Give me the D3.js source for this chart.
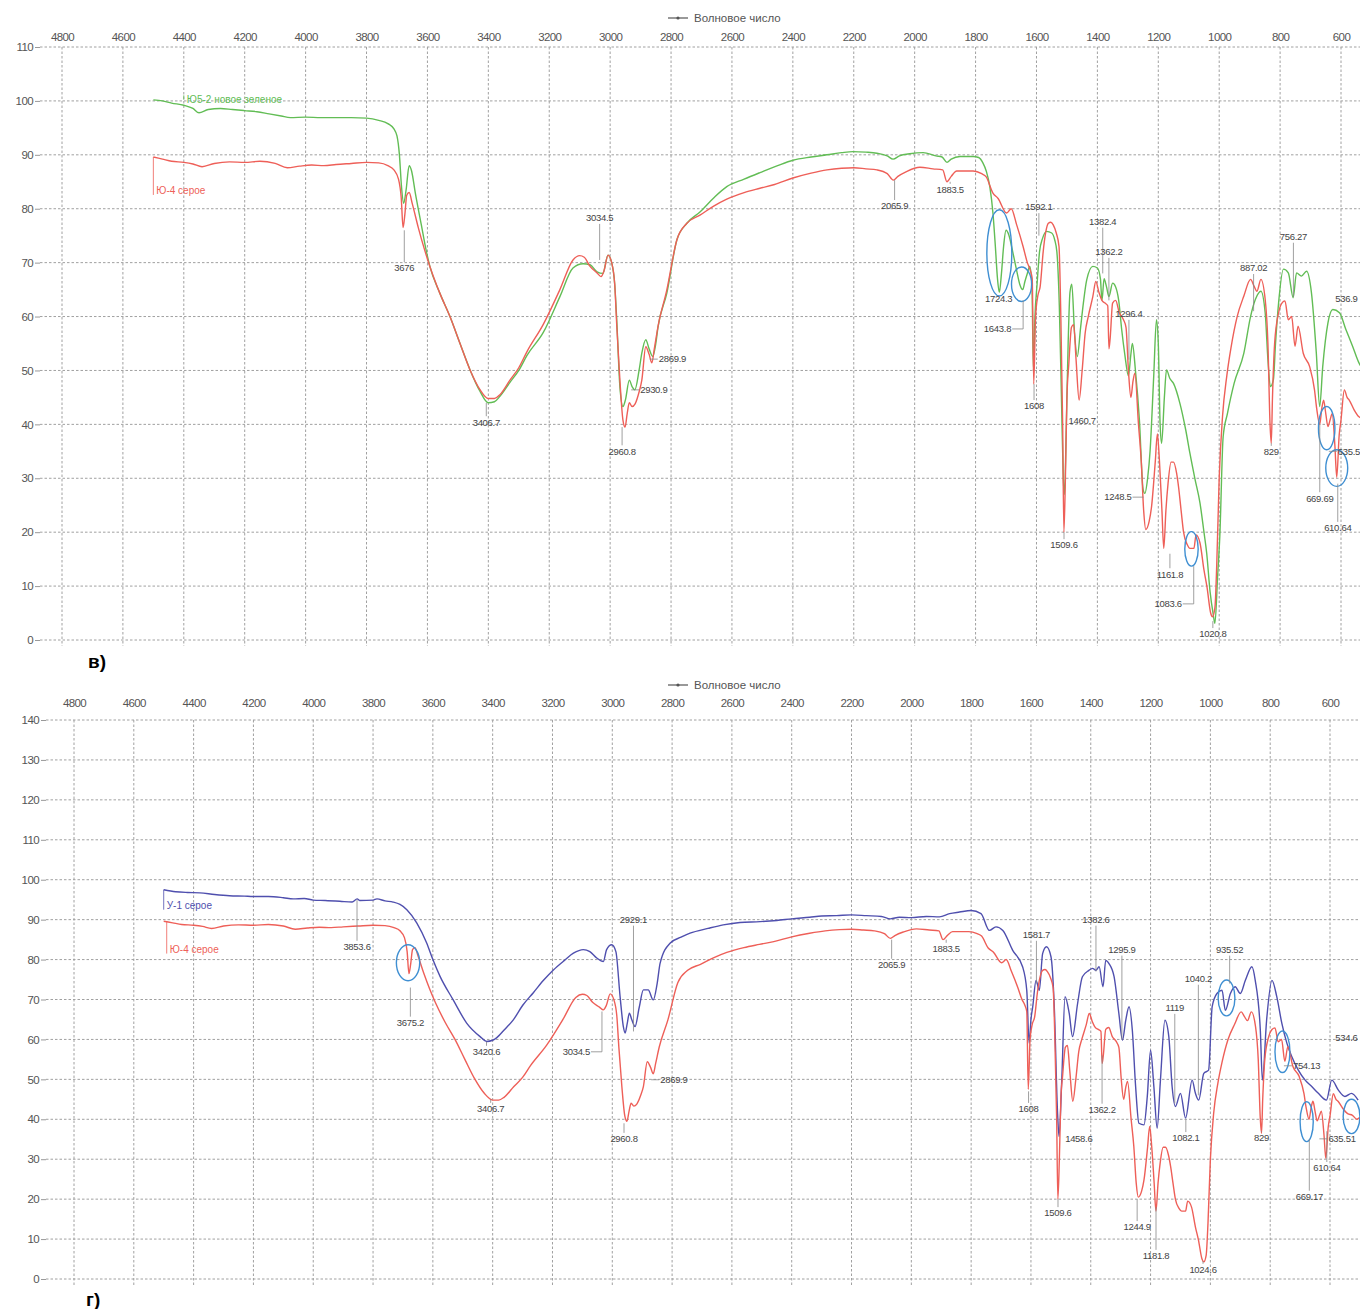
<!DOCTYPE html>
<html>
<head>
<meta charset="utf-8">
<script src="https://cdn.jsdelivr.net/npm/d3@7"></script>
<style>
  body { margin: 0; background: #fff; }
  svg { display: block; font-family: "Liberation Sans Narrow", "Liberation Sans", Arial, sans-serif; }
</style>
</head>
<body>
<svg id="chart" width="1360" height="1309"></svg>
<script>
// ---- data: [wavenumber cm-1, transmittance %] ----
var greenSeries = [
  [4500,100.2],[4470,100],[4440,99.6],[4400,99.2],[4370,98.6],[4350,97.8],[4320,98.4],[4280,98.6],
  [4240,98.4],[4200,98.2],[4160,98],[4120,97.6],[4080,97.2],[4050,96.9],[4000,97],[3950,96.9],
  [3900,96.9],[3850,96.9],[3800,96.8],[3760,96.4],[3730,95.8],[3710,94.8],[3700,93.5],[3692,90],
  [3685,84],[3678,81],[3670,83.5],[3660,88],[3652,87],[3640,83],[3620,77],[3605,72.5],[3592,69.3],
  [3559,64.3],[3526,60],[3493,55],[3460,50.1],[3428,46.2],[3400,44],[3380,44.2],[3362,45.2],
  [3329,47.8],[3300,50],[3273,52.8],[3220,57],[3165,63.7],[3122,69],[3089,69.8],[3066,69.6],
  [3043,68.3],[3024,68],[3007,71.4],[2995,70],[2985,66],[2978,59],[2968,47],[2958,43.3],[2950,44.5],
  [2937,48.2],[2928,47],[2919,46.4],[2905,50],[2896,53.2],[2883,55.7],[2872,54],[2860,52.6],
  [2850,55],[2843,58],[2814,64.3],[2781,74.2],[2748,77.3],[2705,79.4],[2660,82],[2617,84.1],
  [2560,85.5],[2508,86.7],[2450,88],[2400,89],[2340,89.6],[2288,90],[2240,90.4],[2203,90.6],
  [2160,90.5],[2124,90.3],[2090,89.8],[2071,89.2],[2050,89.8],[2016,90.2],[1972,90.4],[1930,89.8],
  [1910,89.6],[1894,88.6],[1880,89.2],[1851,89.7],[1808,89.7],[1790,89.5],[1776,88.5],[1765,87],
  [1753,84],[1743,79.2],[1735,73],[1728,67],[1722,64.5],[1715,68],[1708,73],[1700,76],[1690,75],
  [1678,72],[1665,68.5],[1655,66],[1645,65],[1638,66.5],[1630,68],[1622,69.3],[1615,66],[1610,50],
  [1605,60],[1598,66],[1590,72],[1580,74.5],[1567,75.8],[1550,75.5],[1540,74.2],[1533,72],
  [1525,62],[1518,45],[1512,30],[1508,27],[1502,40],[1496,55],[1490,64.5],[1484,66],[1475,57],
  [1466,52.6],[1455,58],[1446,62.5],[1435,66.8],[1415,69.3],[1400,69],[1390,67],[1385,63],
  [1378,67],[1370,65.5],[1362,63.7],[1350,66.2],[1340,65.5],[1330,63],[1320,57.5],[1310,53],
  [1298,49],[1290,53],[1285,55],[1275,50],[1262,40.8],[1250,28],[1244,27.2],[1235,30],[1227,35],
  [1215,48.9],[1206,59.4],[1200,55],[1194,40],[1189,36.5],[1180,45],[1173,50.1],[1162,48.5],
  [1150,47.6],[1129,43.9],[1110,39],[1096,34.6],[1080,30],[1063,25.4],[1050,20],[1041,16.1],
  [1030,9],[1020,4.9],[1014,3.1],[1005,12],[998,19.2],[987,37.7],[973,42],[951,47.6],[919,53.2],
  [897,60],[881,63.2],[863,64.7],[849,60.7],[840,52],[832,47],[822,48.3],[815,55],[805,62.5],
  [789,68.8],[773,68.1],[757,63.5],[746,68.1],[730,67.5],[713,68.4],[697,64.4],[681,53.2],
  [670,43.3],[660,50.7],[643,58.8],[627,61.3],[605,60.7],[584,57.6],[562,54.5],[541,51.4],[525,50]
];

var redSeries = [
  [4500,89.6],[4470,89.2],[4440,88.8],[4400,88.6],[4370,88.3],[4340,87.8],[4300,88.4],[4250,88.7],
  [4200,88.6],[4150,88.8],[4100,88.4],[4060,87.6],[4020,87.9],[3980,88.1],[3940,88],[3900,88.2],
  [3850,88.4],[3800,88.6],[3760,88.5],[3730,88],[3710,87.2],[3695,85.5],[3686,82],[3680,76.5],
  [3674,79],[3668,82.5],[3660,83],[3650,81],[3630,76.5],[3610,72.5],[3592,69.3],[3559,64.3],
  [3526,60],[3493,55],[3460,50.1],[3428,46.5],[3400,44.8],[3380,44.8],[3362,45.5],[3329,48.2],
  [3300,50.5],[3273,53.5],[3220,58.5],[3165,65],[3122,70.5],[3100,71.3],[3085,71],[3066,69.3],
  [3043,68.1],[3030,67.4],[3020,68.5],[3007,71.4],[2995,70],[2985,66],[2978,58],[2968,48.2],
  [2958,40.8],[2951,39.5],[2944,42],[2937,44],[2928,43.3],[2918,43.8],[2905,46],[2896,48.2],
  [2883,54.4],[2872,53],[2863,51.4],[2855,54],[2843,58.1],[2814,64.9],[2781,74.2],[2748,77.3],
  [2705,78.8],[2660,80.5],[2617,81.8],[2560,83],[2508,83.8],[2460,84.5],[2400,85.7],[2340,86.6],
  [2288,87.2],[2240,87.5],[2200,87.6],[2160,87.4],[2124,87.2],[2090,86.5],[2070,85.3],[2055,86],
  [2027,86.9],[1983,87.7],[1940,87.4],[1908,87.2],[1894,85],[1880,86],[1862,87],[1808,87],
  [1780,86.5],[1765,85.9],[1743,82.9],[1726,81.9],[1698,79.2],[1683,80],[1665,77],[1644,73],
  [1630,70],[1620,68.5],[1614,67],[1609,47.5],[1603,60],[1595,64],[1588,65.5],[1578,72],
  [1570,75.5],[1561,77.3],[1553,77.5],[1545,77],[1535,75.5],[1526,73],[1520,60],[1514,40],
  [1510,20],[1505,30],[1500,45],[1494,51],[1485,58],[1478,58.5],[1470,52],[1460,44.5],[1450,50],
  [1440,57],[1430,60],[1415,63.7],[1405,66.5],[1395,64.5],[1385,63],[1375,62.5],[1366,62],
  [1362,54],[1358,56],[1350,62.5],[1340,63],[1328,60.7],[1315,59.5],[1306,58],[1298,50],
  [1290,45],[1283,48],[1277,49.5],[1265,40],[1256,33.2],[1248,24],[1241,20.5],[1230,22],
  [1222,24.8],[1210,33],[1203,38.2],[1196,33],[1188,24],[1182,17],[1175,24],[1168,29],[1158,33],
  [1150,33],[1140,31],[1133,28.2],[1125,24],[1117,20],[1105,17.7],[1096,17],[1083,17],[1076,19.5],
  [1063,18],[1050,13],[1040,9.8],[1028,5],[1022,4.3],[1014,6],[1008,14],[1000,30],[989,41.5],
  [975,49],[961,54.3],[941,60],[919,63.8],[897,66.9],[886,65.7],[876,64.7],[863,66.9],[849,63.2],
  [840,55],[833,40],[829,36.5],[825,45],[818,55],[805,60.7],[794,62.5],[784,62.9],[773,59.4],
  [762,60],[751,54.5],[741,58.2],[724,53.2],[703,50.7],[687,46.4],[680,43],[670,40],[663,43],
  [657,44.5],[650,42],[643,39.6],[635,41],[629,42],[620,36],[614,30.2],[606,38],[600,40.8],
  [589,46.4],[580,45],[573,44.5],[557,42.7],[541,41.4],[525,41],[510,40],[500,40.5]
];

var blueSeries = [
  [4500,97.5],[4460,97],[4420,96.8],[4379,96.7],[4330,96.3],[4280,96],[4230,95.9],[4201,95.8],
  [4150,95.8],[4100,95.5],[4067,95.2],[4030,95.3],[4000,94.9],[3960,94.8],[3911,94.6],[3870,94.4],
  [3853,95.2],[3844,94.8],[3800,94.9],[3787,95.2],[3760,94.7],[3733,94.4],[3710,93.8],[3687,92.5],
  [3654,89.2],[3621,84.2],[3600,80],[3576,75.8],[3532,69.9],[3487,64.1],[3442,60.7],[3420,59.5],
  [3400,59.8],[3387,60.4],[3360,62.5],[3331,64.9],[3300,68.5],[3264,71.7],[3230,74.8],[3197,77.4],
  [3160,79.8],[3130,81.6],[3097,82.5],[3075,82],[3052,80.4],[3030,79.5],[3019,82.5],[3002,83.7],
  [2988,82],[2974,70.8],[2963,63.2],[2957,61.6],[2950,64],[2943,66.6],[2935,65],[2924,63.2],
  [2910,68],[2896,72.4],[2880,72.4],[2863,69.9],[2850,74],[2840,79.1],[2807,84.1],[2770,85.6],
  [2740,86.6],[2680,87.8],[2629,88.7],[2573,89.3],[2506,89.5],[2450,89.8],[2400,90.2],[2340,90.6],
  [2300,90.9],[2250,91],[2200,91.2],[2150,91],[2100,90.8],[2070,90.2],[2040,90.6],[2000,90.5],
  [1950,90.8],[1906,90.7],[1872,91.5],[1839,91.9],[1800,92.3],[1767,91.5],[1739,87.3],[1717,88.2],
  [1694,87.3],[1661,82.3],[1628,78.2],[1614,72.3],[1606,59],[1600,65],[1594,68.2],[1583,74.8],
  [1572,72.3],[1561,81.5],[1548,83.2],[1533,80.7],[1522,68.2],[1511,41.5],[1506,35.7],[1497,49.8],
  [1486,70.7],[1472,66.5],[1461,60.7],[1444,69],[1428,75.7],[1406,77.3],[1394,77.8],[1383,77.3],
  [1372,78.2],[1359,73.2],[1350,79.8],[1339,79],[1322,75.7],[1306,66.5],[1294,59.8],[1283,64.8],
  [1272,68.2],[1261,62.3],[1250,48.2],[1239,39],[1222,38.6],[1211,45.7],[1200,57.3],[1189,48.2],
  [1178,37.8],[1167,49.8],[1152,64.8],[1139,60.7],[1128,48.2],[1117,43.2],[1100,46.5],[1083,40.3],
  [1061,49.8],[1050,46.5],[1039,44.8],[1022,51.5],[1006,52.3],[994,68.2],[978,71.5],[961,72.3],
  [950,67.3],[933,71.5],[917,73.2],[900,71.5],[883,74.8],[861,78.2],[850,74.8],[833,62.3],
  [826,49.8],[812,64.8],[794,74.8],[778,70.7],[761,64],[744,59],[728,55.7],[706,52.3],[683,49.8],
  [661,48.2],[639,46.5],[612,44.8],[594,49.8],[572,47.3],[550,45.7],[528,46.5],[506,44.8]
];

var xTickValues = d3.range(4800, 599, -200);
var yTicksTop = d3.range(0, 111, 10);
var yTicksBottom = d3.range(0, 141, 10);

// peak labels: text, wavenumber, label level (%T), curve level for leader, side
var peaksTop = [
  {t:"3676", w:3676, v:69, lv:76}, {t:"3406.7", w:3406.7, v:40.4, lv:44},
  {t:"3034.5", w:3034.5, v:78.3, lv:70.5}, {t:"2960.8", w:2960.8, v:35, lv:39.5},
  {t:"2930.9", w:2930.9, v:46.4, s:"r"}, {t:"2869.9", w:2869.9, v:52.1, s:"r"},
  {t:"2065.9", w:2065.9, v:80.5, lv:85.3}, {t:"1883.5", w:1883.5, v:83.5, lv:85},
  {t:"1724.3", w:1724.3, v:63.4}, {t:"1643.8", w:1643.8, v:57.7, lv:63, s:"l"},
  {t:"1608", w:1608, v:43.4, lv:47.5}, {t:"1592.1", w:1592.1, v:80.3, lv:75},
  {t:"1509.6", w:1509.6, v:17.6, lv:20}, {t:"1460.7", w:1450, v:40.6},
  {t:"1382.4", w:1382.4, v:77.6, lv:68}, {t:"1362.2", w:1362.2, v:72, lv:63},
  {t:"1296.4", w:1296.4, v:60.5, lv:52}, {t:"1248.5", w:1248.5, v:26.5, s:"l"},
  {t:"1161.8", w:1161.8, v:12.2, lv:16}, {t:"1083.6", w:1083.6, v:6.7, lv:13.7, s:"l"},
  {t:"1020.8", w:1020.8, v:1.1, lv:3.5}, {t:"887.02", w:887.02, v:69, lv:61},
  {t:"829", w:829, v:34.9, lv:36.5}, {t:"756.27", w:756.27, v:74.8, lv:63.6},
  {t:"536.9", w:582, v:63.4}, {t:"635.5", w:640, v:35, s:"r"},
  {t:"669.69", w:669.69, v:26.3, lv:40}, {t:"610.64", w:610.64, v:20.8, lv:29}
];
var peaksBottom = [
  {t:"3853.6", w:3853.6, v:83.2, lv:95}, {t:"3675.2", w:3675.2, v:64.2, lv:73},
  {t:"3420.6", w:3420.6, v:56.9, lv:59.4}, {t:"3406.7", w:3406.7, v:42.6, lv:45},
  {t:"3034.5", w:3034.5, v:56.9, lv:67, s:"l"}, {t:"2960.8", w:2960.8, v:35.1, lv:39},
  {t:"2929.1", w:2929.1, v:90, lv:62}, {t:"2869.9", w:2869.9, v:49.9, s:"r"},
  {t:"2065.9", w:2065.9, v:78.7, lv:85}, {t:"1883.5", w:1883.5, v:82.7, lv:85},
  {t:"1581.7", w:1581.7, v:86.2, lv:74}, {t:"1608", w:1608, v:42.6, lv:47},
  {t:"1509.6", w:1509.6, v:16.5, lv:20}, {t:"1458.6", w:1440, v:35.1},
  {t:"1382.6", w:1382.6, v:90, lv:77}, {t:"1362.2", w:1362.2, v:42.4, lv:56},
  {t:"1295.9", w:1295.9, v:82.5, lv:60}, {t:"1244.9", w:1244.9, v:13, lv:20},
  {t:"1181.8", w:1181.8, v:5.8, lv:18}, {t:"1119", w:1119, v:67.9, lv:44},
  {t:"1082.1", w:1082.1, v:35.3, lv:40}, {t:"1040.2", w:1040.2, v:75.2, lv:46},
  {t:"1024.6", w:1024.6, v:2.3, lv:4.5}, {t:"935.52", w:935.52, v:82.5, lv:74},
  {t:"829", w:829, v:35.3, lv:37}, {t:"754.13", w:754.13, v:53.4, s:"r"},
  {t:"534.6", w:545, v:60.4}, {t:"610.64", w:610.64, v:27.8, lv:37},
  {t:"669.17", w:669.17, v:20.6, lv:35}, {t:"635.51", w:635.51, v:35.1, s:"r"}
];

// circled bands: centre wavenumber, centre %T, half-width (cm-1), half-height (%T)
var ringsTop = [[1722,71.8,41,8],[1649,66,33,3.2],[1091,16.9,22,3.2],[647,39.3,27,4],[614,31.9,36,3.4]];
var ringsBottom = [[3683,79.2,39,4.5],[946,70.4,28,4.5],[759,56.9,25,5.2],[678,39.4,22,5],[528,40.7,28,4.3]];

var GREEN = "#62bd55", RED = "#ee5f58", BLUE = "#4f4fae", RING = "#3f8fd2";

var svg = d3.select("#chart");

function drawPanel(cfg) {
  var x = d3.scaleLinear().domain([4800, 600]).range(cfg.xr);
  var y = d3.scaleLinear().domain([0, cfg.yMax]).range(cfg.yr);
  var g = svg.append("g");
  var left = cfg.left, right = 1360;

  // grid
  g.selectAll(".hg").data(cfg.yTicks).enter().append("line")
    .attr("x1", left).attr("x2", right)
    .attr("y1", function(d) { return y(d); }).attr("y2", function(d) { return y(d); })
    .attr("stroke", "#a0a0a0").attr("stroke-dasharray", "2.5,2");
  g.selectAll(".vg").data(xTickValues).enter().append("line")
    .attr("x1", function(d) { return x(d); }).attr("x2", function(d) { return x(d); })
    .attr("y1", y(cfg.yMax)).attr("y2", y(0) + 6)
    .attr("stroke", "#a0a0a0").attr("stroke-dasharray", "2.5,2");

  // axes
  var xa = g.append("g").attr("transform", "translate(0," + y(cfg.yMax) + ")")
    .call(d3.axisTop(x).tickValues(xTickValues).tickFormat(d3.format("d")).tickSize(0).tickPadding(cfg.xPad));
  var ya = g.append("g").attr("transform", "translate(" + left + ",0)")
    .call(d3.axisLeft(y).tickValues(cfg.yTicks).tickFormat(d3.format("d")).tickSize(5).tickPadding(2));
  [xa, ya].forEach(function(a) {
    a.select(".domain").remove();
    a.selectAll("text").attr("fill", "#555").style("font-size", "11.5px").style("letter-spacing", "-0.6px");
    a.selectAll("line").attr("stroke", "#999");
  });

  // "Wavenumber" key
  var k = g.append("g").attr("transform", "translate(668," + cfg.keyY + ")");
  k.append("line").attr("x1", 0).attr("x2", 20).attr("stroke", "#555").attr("stroke-width", 1.2);
  k.append("circle").attr("cx", 10).attr("r", 1.6).attr("fill", "#555");
  k.append("text").attr("x", 26).attr("dy", "0.35em").attr("fill", "#555")
    .style("font-size", "11.5px").text("Волновое число");

  // curves
  var line = d3.line().x(function(d) { return x(d[0]); }).y(function(d) { return y(d[1]); })
    .curve(d3.curveMonotoneX);
  cfg.series.forEach(function(s) {
    g.append("path").datum(s.data).attr("d", line)
      .attr("fill", "none").attr("stroke", s.color).attr("stroke-width", 1.4);
  });

  // series labels
  cfg.series.forEach(function(s) {
    var lx = x(s.lw), cv = s.data[0][1];
    g.append("line").attr("x1", lx).attr("x2", lx)
      .attr("y1", y(cv)).attr("y2", y(s.lv) + (s.lv < cv ? 4 : -4))
      .attr("stroke", s.color).attr("stroke-width", 0.8);
    g.append("text").attr("x", lx + 3).attr("y", y(s.lv)).attr("dy", "0.35em")
      .attr("fill", s.color).style("font-size", "10px").text(s.name);
  });

  // rings
  g.selectAll(".ring").data(cfg.rings).enter().append("ellipse")
    .attr("cx", function(d) { return x(d[0]); })
    .attr("cy", function(d) { return y(d[1]); })
    .attr("rx", function(d) { return Math.abs(x(d[0] + d[2]) - x(d[0])); })
    .attr("ry", function(d) { return Math.abs(y(d[1] + d[3]) - y(d[1])); })
    .attr("fill", "none").attr("stroke", RING).attr("stroke-width", 1.4);

  // peak labels
  cfg.peaks.forEach(function(p) {
    var px = x(p.w), py = y(p.v);
    var t = g.append("text").attr("y", py).attr("dy", "0.35em").attr("fill", "#444")
      .style("font-size", "9.5px").style("letter-spacing", "-0.3px").text(p.t);
    if (p.s === "l") {
      t.attr("x", px - 12).attr("text-anchor", "end");
      g.append("line").attr("x1", px - 11).attr("x2", px).attr("y1", py).attr("y2", py)
        .attr("stroke", "#888").attr("stroke-width", 0.8);
    } else if (p.s === "r") {
      t.attr("x", px + 9);
      g.append("line").attr("x1", px).attr("x2", px + 8).attr("y1", py).attr("y2", py)
        .attr("stroke", "#888").attr("stroke-width", 0.8);
    } else {
      t.attr("x", px).attr("text-anchor", "middle");
    }
    if (p.lv !== undefined) {
      var edge = p.s ? py : (p.lv > p.v ? py - 6 : py + 6);
      g.append("line").attr("x1", px).attr("x2", px).attr("y1", y(p.lv)).attr("y2", edge)
        .attr("stroke", "#888").attr("stroke-width", 0.8);
    }
  });
}

drawPanel({
  xr: [62, 1341], yr: [640, 47], yMax: 110, yTicks: yTicksTop, left: 40, xPad: 6, keyY: 18,
  series: [
    {name: "Ю5-2 новое зеленое", color: GREEN, data: greenSeries, lw: 4400, lv: 100.3},
    {name: "Ю-4 серое", color: RED, data: redSeries, lw: 4500, lv: 83.3}
  ],
  rings: ringsTop, peaks: peaksTop
});

drawPanel({
  xr: [74, 1330], yr: [1279, 720], yMax: 140, yTicks: yTicksBottom, left: 46, xPad: 13, keyY: 685,
  series: [
    {name: "У-1 серое", color: BLUE, data: blueSeries, lw: 4500, lv: 93.5},
    {name: "Ю-4 серое", color: RED, data: redSeries, lw: 4490, lv: 82.5}
  ],
  rings: ringsBottom, peaks: peaksBottom
});

svg.append("text").attr("x", 88).attr("y", 668).style("font-family", "Liberation Sans, Arial")
  .style("font-weight", "bold").style("font-size", "19px").text("в)");
svg.append("text").attr("x", 86).attr("y", 1306).style("font-family", "Liberation Sans, Arial")
  .style("font-weight", "bold").style("font-size", "19px").text("г)");
</script>
</body>
</html>
